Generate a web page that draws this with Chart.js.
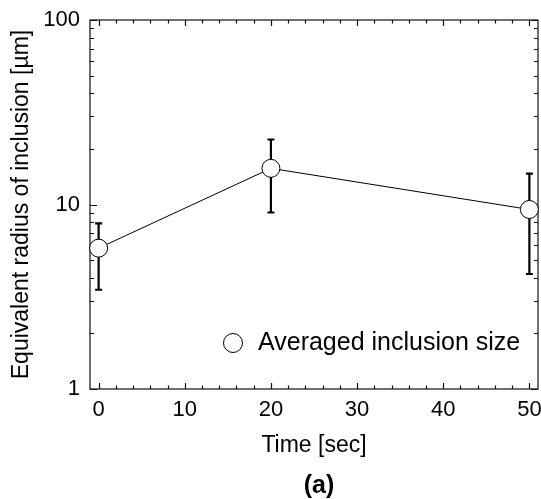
<!DOCTYPE html>
<html>
<head>
<meta charset="utf-8">
<script src="https://cdn.jsdelivr.net/npm/chart.js@4.4.1/dist/chart.umd.min.js"></script>
<style>
  html, body { margin: 0; padding: 0; background: #fff; }
  #wrap { width: 541px; height: 499px; position: relative; }
</style>
</head>
<body>
<div id="wrap"><canvas id="chart"></canvas></div>
<script>
// Data
const times = [0, 20, 50];
const radiusMean = [5.8, 15.7, 9.4];
const radiusLow = [3.45, 9.05, 4.2];
const radiusHigh = [7.9, 22.5, 14.7];

// Tick labels
const xTicks = [0, 10, 20, 30, 40, 50];
const yTicks = [1, 10, 100];
const legendLabel = "Averaged inclusion size";
const panelLabel = "(a)";

const FONT = "'Liberation Sans', Arial, sans-serif";

// frame + inward ticks on all four sides
const framePlugin = {
  id: "frame",
  beforeDatasetsDraw(chart) {
    const { ctx, chartArea: a, scales } = chart;
    const x = scales.x, y = scales.y;
    ctx.save();
    ctx.strokeStyle = "#111";
    ctx.lineWidth = 1.2;
    ctx.strokeRect(a.left, a.top, a.right - a.left, a.bottom - a.top);

    ctx.beginPath();
    // x ticks, minor every 2
    for (let v = 0; v <= 50; v += 2) {
      const px = Math.round(x.getPixelForValue(v)) + 0.5;
      const len = v % 10 === 0 ? 6 : 3.5;
      ctx.moveTo(px, a.bottom); ctx.lineTo(px, a.bottom - len);
      ctx.moveTo(px, a.top); ctx.lineTo(px, a.top + len);
    }
    // y ticks, log decades
    for (let d = 1; d < 100; d *= 10) {
      for (let m = 1; m <= 10; m++) {
        const v = d * m;
        const py = Math.round(y.getPixelForValue(v)) + 0.5;
        const len = (m === 1 || m === 10) ? 7 : 4;
        ctx.moveTo(a.left, py); ctx.lineTo(a.left + len, py);
        ctx.moveTo(a.right, py); ctx.lineTo(a.right - len, py);
      }
    }
    ctx.stroke();

    // error bars (under the markers)
    ctx.strokeStyle = "#000";
    ctx.lineWidth = 2.2;
    ctx.beginPath();
    times.forEach((t, i) => {
      const px = x.getPixelForValue(t);
      const top = y.getPixelForValue(radiusHigh[i]);
      const bot = y.getPixelForValue(radiusLow[i]);
      ctx.moveTo(px, top); ctx.lineTo(px, bot);
      ctx.moveTo(px - 3.5, top); ctx.lineTo(px + 3.5, top);
      ctx.moveTo(px - 3.5, bot); ctx.lineTo(px + 3.5, bot);
    });
    ctx.stroke();
    ctx.restore();
  },
  afterDraw(chart) {
    const { ctx, chartArea: a } = chart;
    ctx.save();
    // legend inside the plot
    const lx = a.right - 305, ly = a.bottom - 46;
    ctx.beginPath();
    ctx.arc(lx, ly, 9.5, 0, Math.PI * 2);
    ctx.fillStyle = "#fff";
    ctx.fill();
    ctx.strokeStyle = "#000";
    ctx.lineWidth = 1;
    ctx.stroke();
    ctx.fillStyle = "#000";
    ctx.font = "25px " + FONT;
    ctx.textBaseline = "alphabetic";
    ctx.textAlign = "left";
    ctx.fillText(legendLabel, lx + 25, ly + 7);

    // panel label
    ctx.font = "bold 25px " + FONT;
    ctx.textAlign = "center";
    ctx.textBaseline = "middle";
    ctx.fillText(panelLabel, (a.left + a.right) / 2 + 5, 486);
    ctx.restore();
  }
};

const ctx = document.getElementById("chart").getContext("2d");
new Chart(ctx, {
  type: "line",
  data: {
    datasets: [{
      label: legendLabel,
      data: times.map((t, i) => ({ x: t, y: radiusMean[i] })),
      borderColor: "#000",
      borderWidth: 1,
      backgroundColor: "#fff",
      pointRadius: 9,
      pointBorderWidth: 1,
      pointBackgroundColor: "#fff",
      pointBorderColor: "#000",
      tension: 0,
      clip: false,
    }],
  },
  options: {
    responsive: true,
    maintainAspectRatio: false,
    animation: false,
    layout: { autoPadding: false, padding: { top: 20, right: 3, left: 0, bottom: 0 } },
    plugins: {
      legend: { display: false },
      tooltip: { enabled: false },
    },
    scales: {
      x: {
        type: "linear",
        min: -1,
        max: 51,
        afterBuildTicks: (s) => { s.ticks = xTicks.map((v) => ({ value: v })); },
        afterFit: (s) => { s.height = 110; s.paddingLeft = 0; s.paddingRight = 0; },
        grid: { display: false },
        border: { display: false },
        ticks: { color: "#000", font: { family: FONT, size: 22 }, padding: 0, maxRotation: 0 },
        title: {
          display: true,
          text: "Time [sec]",
          color: "#000",
          font: { family: FONT, size: 23 },
          padding: { top: 0, bottom: 40 },
        },
      },
      y: {
        type: "logarithmic",
        min: 1,
        max: 100,
        afterBuildTicks: (s) => { s.ticks = yTicks.map((v) => ({ value: v })); },
        afterFit: (s) => { s.width = 90; s.paddingTop = 0; s.paddingBottom = 0; },
        grid: { display: false },
        border: { display: false },
        ticks: {
          color: "#000",
          font: { family: FONT, size: 22 },
          padding: 2,
          callback: (v) => String(v),
        },
        title: {
          display: true,
          text: "Equivalent radius of inclusion [µm]",
          color: "#000",
          font: { family: FONT, size: 23 },
          padding: { top: 8, bottom: 0 },
        },
      },
    },
  },
  plugins: [framePlugin],
});
</script>
</body>
</html>
